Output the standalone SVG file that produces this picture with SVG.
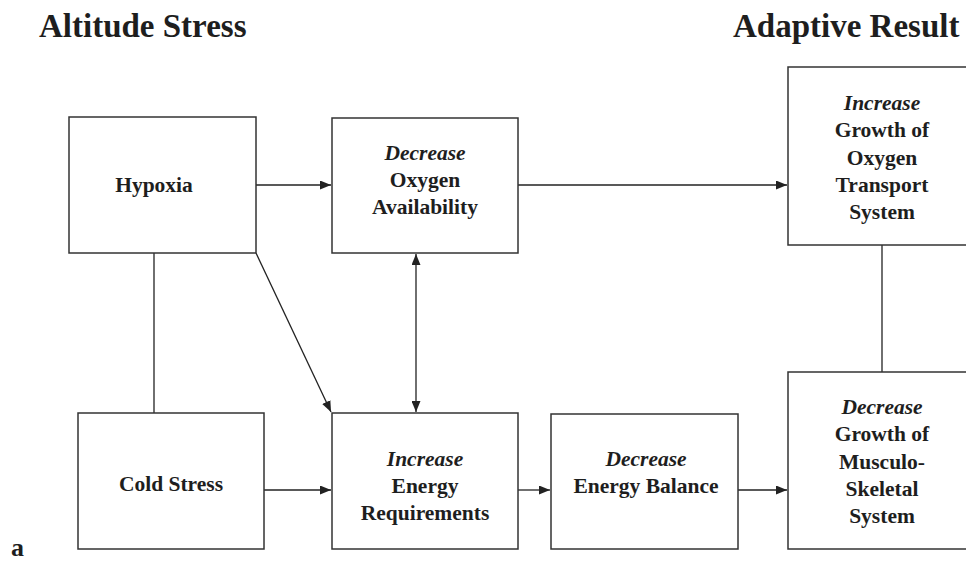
<svg xmlns="http://www.w3.org/2000/svg" width="966" height="561" viewBox="0 0 966 561">
<style>
.box{fill:#fff;stroke:#333;stroke-width:1.5}
.t{font-family:"Liberation Serif","Times New Roman",serif;font-weight:bold;font-size:21.5px;fill:#1e1e1e;text-anchor:middle}
.i{font-style:italic}
.h{font-family:"Liberation Serif","Times New Roman",serif;font-weight:bold;font-size:33px;fill:#1e1e1e}
.c{stroke:#222;stroke-width:1.3;fill:none}
</style>
<defs>
<marker id="ah" viewBox="0 0 11 9" refX="11" refY="4.5" markerWidth="11" markerHeight="9" markerUnits="userSpaceOnUse" orient="auto-start-reverse">
<path d="M0,0 L11,4.5 L0,9 Z" fill="#222"/>
</marker>
</defs>
<rect width="966" height="561" fill="#fff"/>
<text class="h" x="39" y="37">Altitude Stress</text>
<text class="h" x="733" y="37">Adaptive Result</text>
<text class="h" x="11" y="556" style="font-size:26px">a</text>
<g id="connectors">
<line class="c" x1="256" y1="185" x2="331" y2="185" marker-end="url(#ah)"/>
<line class="c" x1="518" y1="185" x2="787" y2="185" marker-end="url(#ah)"/>
<line class="c" x1="154" y1="253" x2="154" y2="413"/>
<line class="c" x1="256" y1="253" x2="331" y2="412" marker-end="url(#ah)"/>
<line class="c" x1="416" y1="254" x2="416" y2="412" marker-start="url(#ah)" marker-end="url(#ah)"/>
<line class="c" x1="264" y1="490" x2="331" y2="490" marker-end="url(#ah)"/>
<line class="c" x1="518" y1="490" x2="550" y2="490" marker-end="url(#ah)"/>
<line class="c" x1="738" y1="490" x2="787" y2="490" marker-end="url(#ah)"/>
<line class="c" x1="882" y1="245" x2="882" y2="372"/>
</g>
<g id="hypoxia">
<rect class="box" x="69" y="117" width="187" height="136"/>
<text class="t" x="154" y="192">Hypoxia</text>
</g>
<g id="oxygen-availability">
<rect class="box" x="332" y="118" width="186" height="135"/>
<text class="t" x="425" y="160"><tspan class="i">Decrease</tspan><tspan x="425" dy="27">Oxygen</tspan><tspan x="425" dy="27">Availability</tspan></text>
</g>
<g id="oxygen-transport">
<rect class="box" x="788" y="67" width="188" height="178"/>
<text class="t" x="882" y="110"><tspan class="i">Increase</tspan><tspan x="882" dy="27.3">Growth of</tspan><tspan x="882" dy="27.3">Oxygen</tspan><tspan x="882" dy="27.3">Transport</tspan><tspan x="882" dy="27.3">System</tspan></text>
</g>
<g id="cold-stress">
<rect class="box" x="78" y="413" width="186" height="136"/>
<text class="t" x="171" y="491">Cold Stress</text>
</g>
<g id="energy-requirements">
<rect class="box" x="332" y="413" width="186" height="136"/>
<text class="t" x="425" y="466"><tspan class="i">Increase</tspan><tspan x="425" dy="27">Energy</tspan><tspan x="425" dy="27">Requirements</tspan></text>
</g>
<g id="energy-balance">
<rect class="box" x="551" y="414" width="187" height="135"/>
<text class="t" x="646" y="466"><tspan class="i">Decrease</tspan><tspan x="646" dy="27">Energy Balance</tspan></text>
</g>
<g id="musculo-skeletal">
<rect class="box" x="788" y="372" width="188" height="177"/>
<text class="t" x="882" y="414"><tspan class="i">Decrease</tspan><tspan x="882" dy="27.3">Growth of</tspan><tspan x="882" dy="27.3">Musculo-</tspan><tspan x="882" dy="27.3">Skeletal</tspan><tspan x="882" dy="27.3">System</tspan></text>
</g>
</svg>
